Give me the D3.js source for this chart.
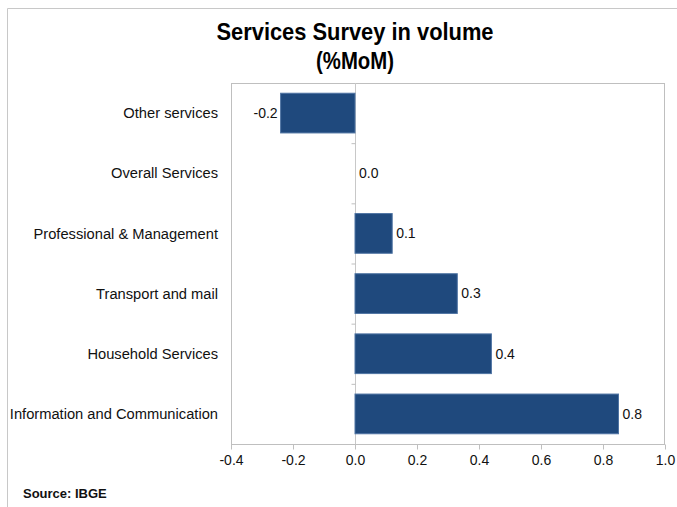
<!DOCTYPE html>
<html lang="en">
<head>
<meta charset="utf-8">
<title>Services Survey in volume</title>
<style type="text/css">
body { margin: 0; background: #fff; }
.title { font-family: "Liberation Sans", Arial, sans-serif; font-weight: bold; font-size: 24px; fill: #000; }
.tick text, .val { font-family: "Liberation Sans", Arial, sans-serif; font-size: 14px; fill: #111; }
.cat { font-family: "Liberation Sans", Arial, sans-serif; font-size: 14.7px; fill: #111; }
.source { font-family: "Liberation Sans", Arial, sans-serif; font-weight: bold; font-size: 13px; fill: #111; }
.bar { fill: #1f497d; stroke: #4f74a3; stroke-width: 1; }
</style>
<script src="https://cdn.jsdelivr.net/npm/d3@7"></script>
</head>
<body>
<script type="text/javascript">
var categories = ["Other services", "Overall Services", "Professional & Management",
                  "Transport and mail", "Household Services", "Information and Communication"];
var values = [-0.24, 0.0, 0.12, 0.33, 0.44, 0.85];
var valueLabels = ["-0.2", "0.0", "0.1", "0.3", "0.4", "0.8"];
var xTicks = [-0.4, -0.2, 0.0, 0.2, 0.4, 0.6, 0.8, 1.0];

var w = 677, h = 507;
var plotL = 231, plotR = 665, plotT = 83, plotB = 444;

var svg = d3.select("body").append("svg")
            .attr("width", w)
            .attr("height", h);

// outer border (only top and left show)
svg.append("line").attr("x1", 7.5).attr("x2", w).attr("y1", 8.5).attr("y2", 8.5)
   .attr("stroke", "#c8c8c8");
svg.append("line").attr("x1", 7.5).attr("x2", 7.5).attr("y1", 8.5).attr("y2", h)
   .attr("stroke", "#c8c8c8");

// title, squeezed to look like the narrow face of the original
svg.append("text").attr("class", "title")
   .attr("x", 355).attr("y", 40).attr("text-anchor", "middle")
   .attr("textLength", 277).attr("lengthAdjust", "spacingAndGlyphs")
   .text("Services Survey in volume");
svg.append("text").attr("class", "title")
   .attr("x", 355).attr("y", 69).attr("text-anchor", "middle")
   .attr("textLength", 78).attr("lengthAdjust", "spacingAndGlyphs")
   .text("(%MoM)");

var x = d3.scaleLinear().domain([-0.4, 1.0]).range([plotL, plotR]);
var y = d3.scaleBand().domain(categories).range([plotT, plotB]).paddingInner(0.34).paddingOuter(0.17);

// plot frame
svg.append("rect")
   .attr("x", plotL + 0.5).attr("y", plotT + 0.5)
   .attr("width", plotR - plotL - 1).attr("height", plotB - plotT)
   .attr("fill", "none").attr("stroke", "#bfbfbf");

// x axis
var fmt = d3.format(".1f");
var xAxis = svg.append("g")
   .attr("transform", "translate(0," + (plotB + 0.5) + ")")
   .call(d3.axisBottom(x).tickValues(xTicks)
           .tickFormat(function(d) { return fmt(d).replace("\u2212", "-"); })
           .tickSize(5).tickPadding(6));
xAxis.select(".domain").remove();
xAxis.selectAll(".tick line").attr("stroke", "#bfbfbf");
xAxis.selectAll(".tick text").attr("fill", "#111");

// zero line with category separator ticks
var x0 = Math.round(x(0)) + 0.5;
svg.append("line").attr("x1", x0).attr("x2", x0).attr("y1", plotT).attr("y2", plotB)
   .attr("stroke", "#c8c8c8");
var step = (plotB - plotT) / categories.length;
svg.selectAll(".sep").data(d3.range(1, categories.length)).enter().append("line")
   .attr("class", "sep")
   .attr("x1", x0 - 4).attr("x2", x0)
   .attr("y1", function(d) { return plotT + d * step + 0.5; })
   .attr("y2", function(d) { return plotT + d * step + 0.5; })
   .attr("stroke", "#bfbfbf");

// bars
svg.selectAll(".bar").data(values).enter().append("rect")
   .attr("class", "bar")
   .attr("x", function(d) { return x(Math.min(0, d)); })
   .attr("y", function(d, i) { return y(categories[i]); })
   .attr("width", function(d) { return Math.abs(x(d) - x(0)); })
   .attr("height", y.bandwidth())
   .style("display", function(d) { return d === 0 ? "none" : null; });

// value labels
svg.selectAll(".val").data(values).enter().append("text")
   .attr("class", "val")
   .attr("x", function(d) { return d < 0 ? x(d) - 3 : x(d) + 4; })
   .attr("y", function(d, i) { return y(categories[i]) + y.bandwidth() / 2; })
   .attr("dy", "0.35em")
   .attr("text-anchor", function(d) { return d < 0 ? "end" : "start"; })
   .text(function(d, i) { return valueLabels[i]; });

// category labels
svg.selectAll(".cat").data(categories).enter().append("text")
   .attr("class", "cat")
   .attr("x", 218)
   .attr("y", function(d) { return y(d) + y.bandwidth() / 2; })
   .attr("dy", "0.35em")
   .attr("text-anchor", "end")
   .text(function(d) { return d; });

svg.append("text").attr("class", "source")
   .attr("x", 23).attr("y", 498)
   .text("Source: IBGE");
</script>
</body>
</html>
